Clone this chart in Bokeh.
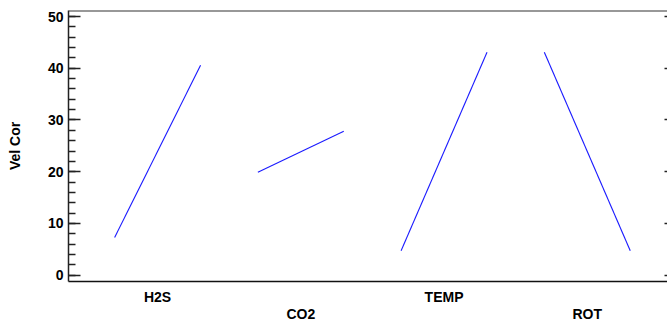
from bokeh.plotting import figure
from bokeh.models import (LinearAxis, FixedTicker, SingleIntervalTicker, Span,
                          Range1d)
from bokeh.embed import file_html
from bokeh.resources import INLINE

# ---- data ----
factors = ["H2S", "CO2", "TEMP", "ROT"]
positions = [1, 2, 3, 4]
low_values = [7.3, 19.9, 4.7, 43.1]
high_values = [40.6, 27.8, 43.1, 4.7]
y_ticks = [0, 10, 20, 30, 40, 50]

half_width = 0.3
FONT = "Liberation Sans"
FS = "14px"
AXIS_COLOR = "#000000"

p = figure(width=667, height=324,
           x_range=Range1d(0.378, 4.56), y_range=Range1d(-1.23, 51.17),
           output_backend="svg", toolbar_location=None,
           x_axis_location=None, y_axis_location="left",
           min_border_left=68, min_border_top=10,
           min_border_right=0, min_border_bottom=0)
p.outline_line_color = None
p.grid.visible = False
p.background_fill_color = "white"
p.border_fill_color = "white"

xs = [[pos - half_width, pos + half_width] for pos in positions]
ys = [[lo, hi] for lo, hi in zip(low_values, high_values)]
p.multi_line(xs, ys, line_color="#1a1aff", line_width=1.1)

# left axis
ya = p.yaxis[0]
ya.ticker = SingleIntervalTicker(interval=10, num_minor_ticks=5)
ya.axis_label = "Vel Cor"
ya.axis_label_text_font = FONT
ya.axis_label_text_font_style = "bold"
ya.axis_label_text_font_size = FS
ya.axis_label_text_color = AXIS_COLOR
ya.axis_label_standoff = 22
ya.major_label_text_font = FONT
ya.major_label_text_font_style = "bold"
ya.major_label_text_font_size = FS
ya.major_label_text_color = AXIS_COLOR
ya.major_label_standoff = 5
ya.major_tick_in = 12
ya.major_tick_out = 0
ya.minor_tick_in = 7
ya.minor_tick_out = 0
ya.axis_line_width = 1.5
ya.axis_line_color = "#222222"
ya.major_tick_line_color = "#222222"
ya.minor_tick_line_color = "#222222"
ya.major_tick_line_width = 1.5
ya.minor_tick_line_width = 1.5

# right axis (ticks only, cut at window edge)
ra = LinearAxis(ticker=FixedTicker(ticks=y_ticks))
ra.axis_line_color = None
ra.major_tick_in = 3
ra.major_tick_out = 0
ra.major_tick_line_width = 1.5
ra.major_tick_line_color = "#222222"
ra.minor_tick_line_color = None
ra.major_label_text_alpha = 0
ra.major_label_text_font_size = "1px"
ra.major_label_standoff = 0
p.add_layout(ra, "right")

# bottom axes: staggered category labels
def bottom_axis(idx, standoff, line):
    ax = LinearAxis(ticker=FixedTicker(ticks=[positions[i] for i in idx]),
                    major_label_overrides={positions[i]: factors[i] for i in idx})
    ax.major_tick_in = 0
    ax.major_tick_out = 0
    ax.minor_tick_line_color = None
    ax.major_tick_line_color = None
    ax.major_label_standoff = standoff
    ax.major_label_text_font = FONT
    ax.major_label_text_font_style = "bold"
    ax.major_label_text_font_size = FS
    ax.major_label_text_color = AXIS_COLOR
    if line:
        ax.axis_line_width = 1.5
        ax.axis_line_color = "#111111"
    else:
        ax.axis_line_color = None
    return ax

p.add_layout(bottom_axis([0, 2], 7, True), "below")
p.add_layout(bottom_axis([1, 3], -2, False), "below")

# top border line
p.add_layout(Span(location=51.17, dimension="width", line_color="#333333",
                  line_width=2))

open("out.html", "w").write(file_html(p, INLINE))
